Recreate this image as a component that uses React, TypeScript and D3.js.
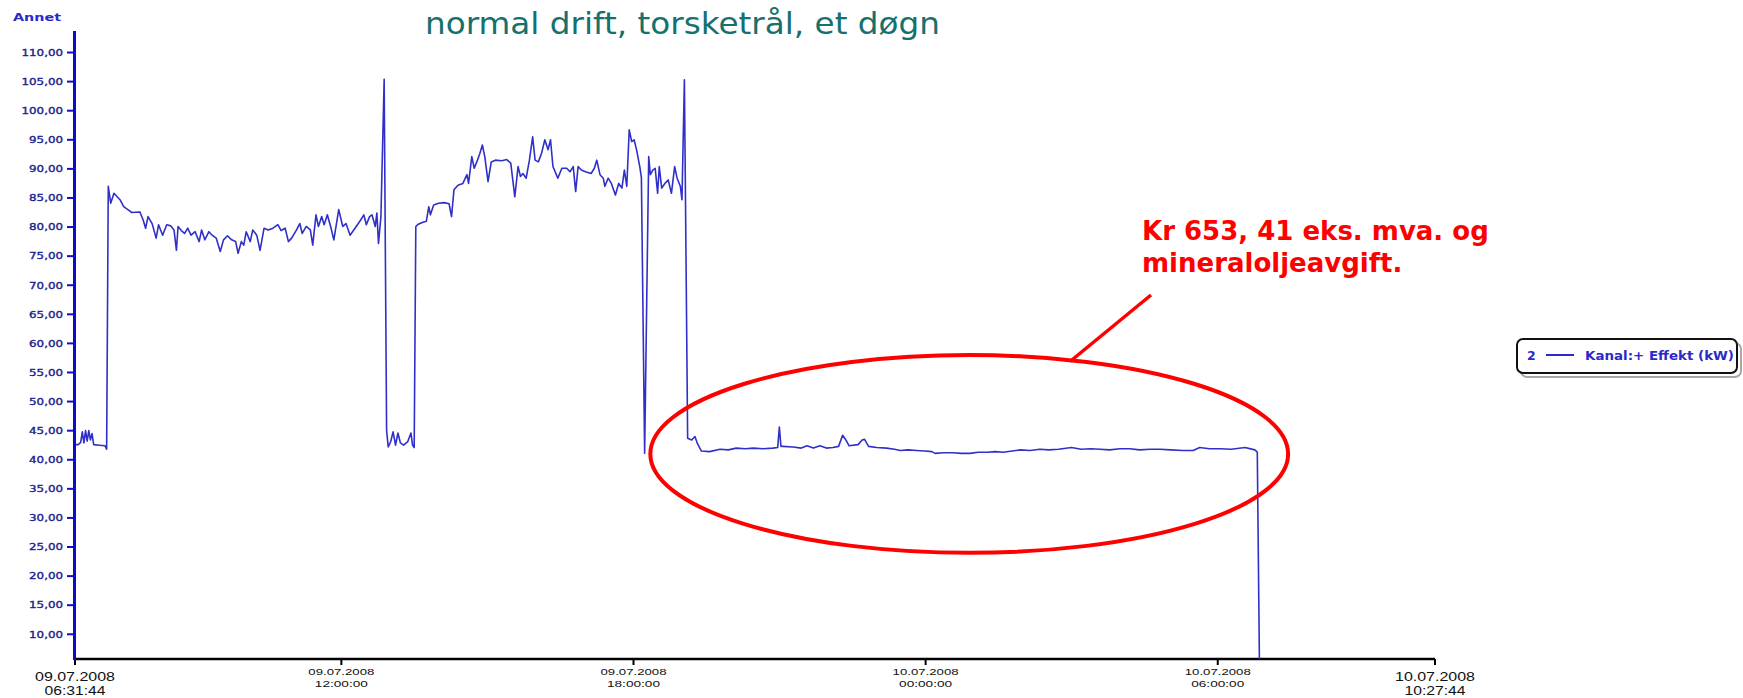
import React from "react";
import * as d3 from "d3";

// ---------- data ----------
const START = new Date(2008, 6, 9, 6, 31, 44);
const END = new Date(2008, 6, 10, 10, 27, 44);
const chartTitle = "normal drift, torsketrål, et døgn";
const yAxisTitle = "Annet";
const legendIndex = "2";
const legendLabel = "Kanal:+ Effekt (kW)";
const annotationLines = ["Kr 653, 41 eks. mva. og", "mineraloljeavgift."];
const yTickValues = [10, 15, 20, 25, 30, 35, 40, 45, 50, 55, 60, 65, 70, 75, 80, 85, 90, 95, 100, 105, 110];
const xTickTimes = [
  new Date(2008, 6, 9, 12, 0, 0),
  new Date(2008, 6, 9, 18, 0, 0),
  new Date(2008, 6, 10, 0, 0, 0),
  new Date(2008, 6, 10, 6, 0, 0),
];
// minutes after 09.07.2008 06:31:44
const sampleMinutes = [
  0, 4, 7, 9, 11, 13, 15, 17, 19, 21, 23, 30, 37, 39,
  41, 44, 48, 52, 56, 60, 66, 70, 80, 84, 87, 90, 95, 100, 103, 108, 113, 118, 122, 125, 127, 131, 135, 139, 143, 148,
  153, 156, 160, 165, 169, 174, 179, 183, 188, 193, 198, 201, 205, 208, 211, 216, 219, 224, 228, 233, 238, 244, 250,
  254, 259, 263, 267, 273, 277, 280, 285, 290, 293, 297, 300, 304, 307, 311, 315, 319, 325, 330, 334, 339, 345, 351,
  356, 359, 363, 366, 370, 372, 374, 377, 381, 384,
  386, 389, 392, 395, 398, 401, 405, 410, 414, 416, 418,
  420, 423, 428, 433, 436, 438, 442, 448, 455, 461, 464, 467, 472, 478, 483, 485, 489, 492, 496, 499, 502, 505, 509,
  513, 518, 526, 532, 537, 542, 546, 549, 552, 556, 560, 564, 567, 571, 575, 579, 583, 586, 589, 595, 600, 606, 610,
  614, 617, 620, 624, 629, 636, 640, 643, 647, 651, 653, 657, 661, 666, 670, 674, 677, 680, 683, 686, 689, 692, 696,
  698, 702, 707, 709, 712, 715, 718, 720, 723, 727, 731, 735, 739, 742, 746, 748, 751,
  755, 760, 764, 767, 772, 782, 795, 805, 815, 826, 836, 848, 860, 866, 868, 870, 872, 885, 895, 902, 910, 918, 926,
  934, 941, 946, 950, 954, 965, 970, 973, 978, 988, 1000, 1010, 1017, 1027, 1037, 1047, 1056, 1060, 1070, 1082, 1092,
  1103, 1113, 1124, 1134, 1144, 1155, 1165, 1177, 1189, 1200, 1212, 1228, 1240, 1252, 1263, 1275, 1288, 1300, 1312,
  1325, 1337, 1350, 1365, 1378, 1386, 1398, 1411, 1425, 1442, 1454, 1457, 1460,
];
const effektKW = [
  42.6, 42.6, 43.0, 44.8, 42.9, 45.0, 43.2, 45.0, 43.4, 44.5, 42.6, 42.5, 42.4, 41.8,
  87.0, 84.1, 85.8, 85.2, 84.6, 83.5, 82.9, 82.5, 82.6, 81.2, 79.8, 81.8, 80.6, 78.1, 80.4, 78.6, 80.4, 80.2, 79.5, 76.0, 80.1, 79.4, 78.9, 79.8, 78.6, 79.2,
  77.5, 79.5, 77.8, 79.2, 78.6, 78.1, 75.8, 77.8, 78.5, 77.8, 77.5, 75.5, 77.5, 76.9, 79.2, 77.5, 79.5, 78.6, 76.0, 79.8, 79.5, 79.8, 80.4,
  79.4, 79.8, 77.5, 78.1, 79.5, 80.6, 78.9, 80.1, 79.5, 76.9, 82.1, 80.1, 81.8, 80.4, 82.1, 80.1, 77.8, 83.0, 80.1, 80.6, 78.6, 79.8, 81.0,
  82.1, 80.4, 81.8, 82.1, 80.1, 82.4, 77.2, 81.8, 105.4, 45.0,
  42.2, 43.1, 44.8, 42.5, 44.6, 42.9, 42.5, 43.1, 44.6, 42.5, 42.1,
  80.1, 80.5, 80.8, 81.0, 83.5, 82.1, 83.8, 84.1, 84.2, 84.0, 81.8, 86.4, 87.2, 87.5, 89.0, 87.5, 92.1, 90.1, 91.5, 92.7, 94.1, 92.1, 87.8,
  91.2, 91.5, 91.4, 91.6, 91.0, 85.2, 90.4, 88.7, 89.2, 88.4, 91.5, 95.5, 91.5, 91.2, 92.7, 95.0, 93.3, 95.0, 90.4, 88.4, 90.1, 90.1, 89.5,
  90.4, 86.1, 90.4, 89.8, 89.5, 89.2, 90.1, 91.5, 89.0, 88.4, 87.0, 88.4, 87.5, 85.5, 87.5, 86.7, 89.8, 87.0, 96.7, 94.7, 95.0, 93.3, 90.4,
  88.5, 41.1, 92.1, 89.0, 89.8, 90.1, 85.8, 90.4, 86.7, 87.5, 88.1, 85.8, 90.4, 88.4, 87.0, 84.7, 105.3,
  43.7, 43.4, 44.0, 42.8, 41.5, 41.4, 41.8, 41.7, 42.0, 41.9, 42.0, 41.9, 42.0, 42.1, 45.6, 42.3, 42.3, 42.2, 42.0, 42.4, 42.0, 42.4, 42.0,
  42.1, 42.3, 44.2, 43.4, 42.4, 42.6, 43.4, 43.5, 42.3, 42.1, 42.0, 41.8, 41.6, 41.7, 41.6, 41.5, 41.4, 41.1, 41.2, 41.2, 41.1,
  41.1, 41.3, 41.3, 41.4, 41.3, 41.5, 41.7, 41.6, 41.8, 41.7, 41.8, 42.1, 41.8, 41.9, 41.8, 41.7, 41.9, 41.9, 41.7,
  41.8, 41.8, 41.7, 41.6, 41.6, 42.1, 41.9, 41.9, 41.8, 42.1, 41.7, 41.3, 0,
];
// highlighted region (ellipse) in data terms: centre minute, centre kW, half-span minutes, half-span kW
const highlightCenterMinute = 1102;
const highlightCenterKW = 41.0;
const highlightHalfMinutes = 393;
const highlightHalfKW = 17.0;

// ---------- layout ----------
const W = 1743;
const H = 698;
const X0 = 75;
const X1 = 1435;
const YTOP = 31;
const YBOT = 659;

const x = d3.scaleTime().domain([START, END]).range([X0, X1]);
const y = d3.scaleLinear().domain([5.75, 113.7]).range([YBOT, YTOP]);

const points = sampleMinutes.map((m, i) => ({
  t: new Date(START.getTime() + m * 60000),
  v: effektKW[i],
}));

const linePath = d3
  .line<{ t: Date; v: number }>()
  .x((d) => x(d.t))
  .y((d) => y(d.v))(points) as string;

const fmtY = (v: number) => d3.format(".2f")(v).replace(".", ",");
const fmtDate = d3.timeFormat("%d.%m.%Y");
const fmtTime = d3.timeFormat("%H:%M:%S");

const minToDate = (m: number) => new Date(START.getTime() + m * 60000);

export default function App() {
  const ecx = x(minToDate(highlightCenterMinute));
  const ecy = y(highlightCenterKW);
  const erx = x(minToDate(highlightCenterMinute + highlightHalfMinutes)) - ecx;
  const ery = y(highlightCenterKW - highlightHalfKW) - ecy;

  return (
    <svg
      width={W}
      height={H}
      viewBox={`0 0 ${W} ${H}`}
      style={{ position: "absolute", left: 0, top: 0, display: "block", background: "#fff" }}
    >
      <defs>
        <clipPath id="plotClip">
          <rect x={X0} y={YTOP} width={X1 - X0} height={YBOT - YTOP} />
        </clipPath>
      </defs>
      <rect x={0} y={0} width={W} height={H} fill="#fff" />

      {/* title */}
      <text
        x={425}
        y={34}
        fontFamily="DejaVu Sans, Verdana, sans-serif"
        fontSize={31}
        fill="#16706e"
        textLength={515}
        lengthAdjust="spacingAndGlyphs"
      >
        {chartTitle}
      </text>

      {/* y axis title */}
      <text
        x={13}
        y={21}
        fontFamily="DejaVu Sans, Verdana, sans-serif"
        fontSize={11}
        fontWeight="bold"
        fill="#2a2ac6"
        textLength={48}
        lengthAdjust="spacingAndGlyphs"
      >
        {yAxisTitle}
      </text>

      {/* y ticks */}
      {yTickValues.map((v) => (
        <g key={v}>
          <line x1={67} x2={74} y1={y(v)} y2={y(v)} stroke="#1010c0" strokeWidth={2} />
          <text
            transform={`translate(63,${y(v) + 3.3}) scale(1.32,1)`}
            textAnchor="end"
            fontFamily="DejaVu Sans, Verdana, sans-serif"
            fontSize={9}
            fill="#22228e"
            stroke="#22228e"
            strokeWidth={0.35}
          >
            {fmtY(v)}
          </text>
        </g>
      ))}

      {/* x axis */}
      <line x1={X0 - 1} x2={X1} y1={YBOT} y2={YBOT} stroke="#000" strokeWidth={2.5} />
      {[START, ...xTickTimes, END].map((t, i) => (
        <line key={i} x1={x(t)} x2={x(t)} y1={YBOT} y2={YBOT + 6} stroke="#000" strokeWidth={2} />
      ))}
      {xTickTimes.map((t, i) => (
        <g key={i}>
          <text
            x={x(t)}
            y={674.5}
            textAnchor="middle"
            fontFamily="Liberation Sans, Arial, sans-serif"
            fontSize={9.5}
            fill="#111"
            textLength={66}
            lengthAdjust="spacingAndGlyphs"
          >
            {fmtDate(t)}
          </text>
          <text
            x={x(t)}
            y={686.5}
            textAnchor="middle"
            fontFamily="Liberation Sans, Arial, sans-serif"
            fontSize={9.5}
            fill="#111"
            textLength={53}
            lengthAdjust="spacingAndGlyphs"
          >
            {fmtTime(t)}
          </text>
        </g>
      ))}
      {[START, END].map((t, i) => (
        <g key={"e" + i}>
          <text
            x={x(t)}
            y={681}
            textAnchor="middle"
            fontFamily="Liberation Sans, Arial, sans-serif"
            fontSize={13.5}
            fill="#111"
            textLength={80}
            lengthAdjust="spacingAndGlyphs"
          >
            {fmtDate(t)}
          </text>
          <text
            x={x(t)}
            y={694.5}
            textAnchor="middle"
            fontFamily="Liberation Sans, Arial, sans-serif"
            fontSize={13.5}
            fill="#111"
            textLength={61}
            lengthAdjust="spacingAndGlyphs"
          >
            {fmtTime(t)}
          </text>
        </g>
      ))}

      {/* data line */}
      <path
        d={linePath}
        fill="none"
        stroke="#3030c8"
        strokeWidth={1.6}
        strokeLinejoin="round"
        clipPath="url(#plotClip)"
      />

      {/* y axis line */}
      <line x1={74.5} x2={74.5} y1={YTOP} y2={YBOT + 1} stroke="#0c0cc8" strokeWidth={3} />

      {/* highlight ellipse */}
      <ellipse cx={ecx} cy={ecy} rx={erx} ry={ery} fill="none" stroke="#ff0000" strokeWidth={4} />

      {/* annotation */}
      <line x1={1151} y1={295} x2={1070} y2={361.5} stroke="#ff0000" strokeWidth={3.5} />
      {annotationLines.map((s, i) => (
        <text
          key={i}
          x={1142}
          y={240 + i * 31.5}
          fontFamily="DejaVu Sans, Verdana, sans-serif"
          fontSize={26}
          fontWeight="bold"
          fill="#ff0000"
        >
          {s}
        </text>
      ))}

      {/* legend */}
      <rect x={1521} y={343} width={220} height={34} rx={6} fill="none" stroke="#a8a8a8" strokeWidth={2} />
      <rect x={1517} y={339} width={220} height={34} rx={6} fill="#fff" stroke="#111" strokeWidth={2} />
      <text
        x={1527}
        y={360}
        fontFamily="DejaVu Sans, Verdana, sans-serif"
        fontSize={12.5}
        fontWeight="bold"
        fill="#2a2ac8"
      >
        {legendIndex}
      </text>
      <line x1={1546} x2={1574} y1={355} y2={355} stroke="#2a2ac8" strokeWidth={2} />
      <text
        x={1585}
        y={360}
        fontFamily="DejaVu Sans, Verdana, sans-serif"
        fontSize={12.5}
        fontWeight="bold"
        fill="#2a2ac8"
        textLength={149}
        lengthAdjust="spacingAndGlyphs"
      >
        {legendLabel}
      </text>
    </svg>
  );
}
